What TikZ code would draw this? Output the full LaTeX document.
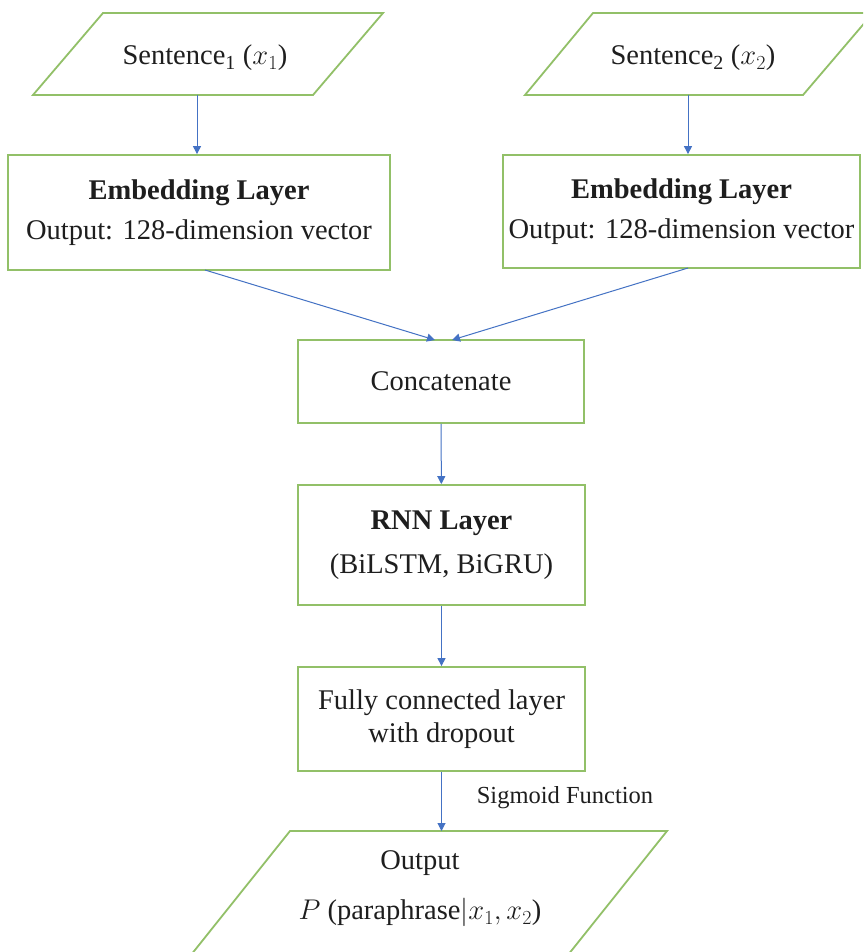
\RequirePackage{fix-cm}
\documentclass[tikz,border=0pt]{standalone}
\usepackage{fontspec}
\setmainfont{Liberation Serif}
\usetikzlibrary{arrows.meta,calc}
\definecolor{boxgreen}{RGB}{146,192,104}
\definecolor{arrblue}{RGB}{68,114,196}
\definecolor{txt}{RGB}{30,30,30}
\begin{document}
\begin{tikzpicture}[x=1pt,y=-1pt,
  box/.style={draw=boxgreen,line width=1.8pt,fill=white,inner sep=0pt,align=center,text=txt,
     font=\fontsize{28.5}{33}\selectfont},
  lbl/.style={inner sep=0pt,align=center,text=txt,font=\fontsize{28.5}{33}\selectfont},
  para/.style={draw=boxgreen,line width=1.8pt,line join=miter},
  arr/.style={draw=arrblue,line width=1pt,-{Triangle[width=8pt,length=8pt]}}]
\clip (0,0) rectangle (863,952);
\fill[white] (0,0) rectangle (863,952);
% input parallelograms
\draw[para] (103,13) -- (383,13) -- (313,95) -- (33,95) -- cycle;
\node[lbl] (s1) at (205,58) {Sentence\textsubscript{1} ($x_1$)};
\coordinate (s1b) at (197,95);
\draw[para] (593,13) -- (873,13) -- (803,95) -- (525,95) -- cycle;
\node[lbl] (s2) at (693,58) {Sentence\textsubscript{2} ($x_2$)};
\coordinate (s2b) at (688,95);
% embedding layers
\node[box,minimum width=382pt,minimum height=115pt] (e1) at (199,212.5)
  {\textbf{Embedding Layer}\\[7pt]Output: 128-dimension vector};
\node[box,minimum width=357pt,minimum height=113pt] (e2) at (681.5,211.5)
  {\textbf{Embedding Layer}\\[7pt]Output: 128-dimension vector};
\coordinate (e1b) at (205,270);
\coordinate (e2b) at (688,268);
% concatenate
\node[box,minimum width=286pt,minimum height=83pt] (c) at (441,381.5) {Concatenate};
\coordinate (c1) at (435,340);
\coordinate (c2) at (452,340);
% RNN
\node[box,minimum width=287pt,minimum height=120pt] (r) at (441.5,545)
  {\textbf{RNN Layer}\\[11pt](BiLSTM, BiGRU)};
% FC
\node[box,minimum width=287pt,minimum height=104pt] (f) at (441.5,719)
  {Fully connected layer\\with dropout};
% output
\draw[para] (290,831) -- (667,831) -- (548,980) -- (171,980) -- cycle;
\coordinate (ot) at (441.5,831);
\node[lbl] (o) at (420,889) {Output\\[17pt]$P$ (paraphrase$|x_1,x_2$)};
\node[lbl,font=\fontsize{24.5}{29}\selectfont] (sig) at (565,798) {Sigmoid Function};
% connectors
\draw[arr] (s1b) -- (s1b |- e1.north);
\draw[arr] (s2b) -- (s2b |- e2.north);
\draw[arr] (e1b) -- (c1);
\draw[arr] (e2b) -- (c2);
\draw[arr] (c) -- (r);
\draw[arr] (r) -- (f);
\draw[arr] (f) -- (ot);
\end{tikzpicture}
\end{document}
